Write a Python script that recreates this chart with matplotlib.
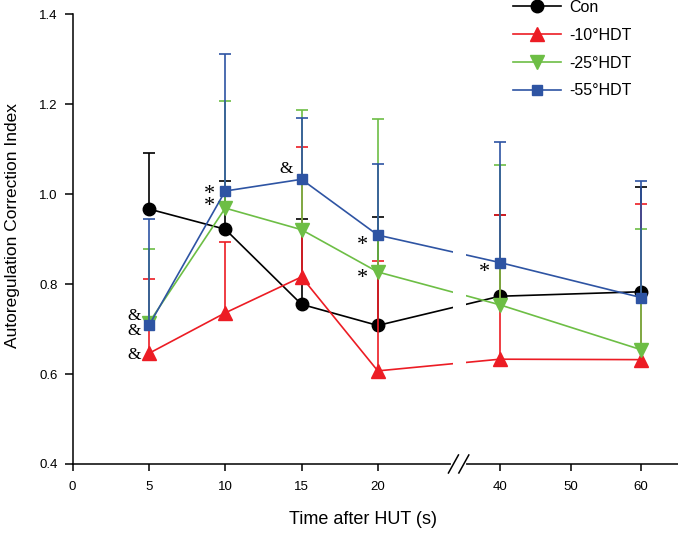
import numpy as np
import matplotlib
matplotlib.use('Agg')
import matplotlib.pyplot as plt
from matplotlib.lines import Line2D
from matplotlib.ticker import FormatStrFormatter

plt.rcParams['font.family'] = ['Liberation Sans', 'DejaVu Sans']

# data (mean and upper SD)
times = [5, 10, 15, 20, 40, 60]
con = [0.967, 0.922, 0.755, 0.708, 0.773, 0.783]
con_sd = [0.125, 0.107, 0.190, 0.242, 0.181, 0.233]
hdt10 = [0.646, 0.736, 0.816, 0.607, 0.633, 0.632]
hdt10_sd = [0.165, 0.158, 0.289, 0.245, 0.321, 0.347]
hdt25 = [0.714, 0.969, 0.921, 0.827, 0.754, 0.654]
hdt25_sd = [0.163, 0.238, 0.267, 0.340, 0.311, 0.269]
hdt55 = [0.708, 1.007, 1.033, 0.909, 0.848, 0.770]
hdt55_sd = [0.237, 0.305, 0.137, 0.158, 0.268, 0.260]

labels = ['Con', '-10°HDT', '-25°HDT', '-55°HDT']
xticks = [0, 5, 10, 15, 20, 40, 50, 60]
yticks = [0.4, 0.6, 0.8, 1.0, 1.2, 1.4]

# significance symbols (time, value, symbol)
marks = [(5, 0.729, '&'), (5, 0.696, '&'), (5, 0.642, '&'),
         (10, 0.997, '*\n*'), (15, 1.056, '&'),
         (20, 0.897, '*'), (20, 0.823, '*'), (40, 0.836, '*')]

colors = ['#000000', '#ec1c24', '#6dbe45', '#2e54a3']
markers = ['o', '^', 'v', 's']
msizes = [9, 9.5, 9.5, 7.5]


# broken time axis: 0-20 s, compressed gap, 40-60 s
def fwd(t):
    t = np.asarray(t, dtype=float)
    return np.where(t <= 20, t, np.where(t <= 40, 20 + (t - 20) * 0.4, 28 + (t - 40) * 0.4635))


def inv(p):
    p = np.asarray(p, dtype=float)
    return np.where(p <= 20, p, np.where(p <= 28, 20 + (p - 20) / 0.4, 40 + (p - 28) / 0.4635))


W, H = 678, 533
fig = plt.figure(figsize=(W / 100, H / 100), dpi=100)
ax = fig.add_axes([0.1072, 0.1295, 0.8928, 0.8437])
ax.set_xscale('function', functions=(fwd, inv))
ax.set_xlim(0, 65.2)
ax.set_ylim(0.4, 1.4)

series = [(con, con_sd), (hdt10, hdt10_sd), (hdt25, hdt25_sd), (hdt55, hdt55_sd)]
for i, (vals, sd) in enumerate(series):
    z = 3 + i
    eb = ax.errorbar(times, vals, yerr=[np.zeros(len(sd)), sd], fmt='none',
                     ecolor=colors[i], elinewidth=1.2, capsize=4.5, capthick=1.2, zorder=z)
    eb.lines[1][0].set_visible(False)  # one-sided bars: hide lower caps
    ax.plot(times, vals, color=colors[i], marker=markers[i], ms=msizes[i], lw=1.2,
            label=labels[i], zorder=z + 0.1)

# gap in the lines at the axis break
ax.axvspan(32.3, 34.4, ymin=0.006, ymax=1, color='white', lw=0, zorder=10)

for t, v, s in marks:
    if '*' in s:
        ax.annotate(s, xy=(t, v), xytext=(-11, -3.5), textcoords='offset points',
                    ha='center', va='center', fontsize=16, linespacing=0.55,
                    family='Liberation Serif', zorder=12)
    else:
        ax.annotate(s, xy=(t, v), xytext=(-11, 0), textcoords='offset points',
                    ha='center', va='center', fontsize=12.5, family='Liberation Serif', zorder=12)

for side in ['top', 'right']:
    ax.spines[side].set_visible(False)
for side in ['left', 'bottom']:
    ax.spines[side].set_linewidth(1.1)

ax.set_xticks(xticks)
ax.set_xticklabels([str(t) for t in xticks])
ax.xaxis.set_minor_locator(matplotlib.ticker.NullLocator())
ax.set_yticks(yticks)
ax.yaxis.set_major_formatter(FormatStrFormatter('%.1f'))
ax.tick_params(axis='x', direction='out', length=5, width=1.1, pad=7, labelsize=9.5)
ax.tick_params(axis='y', direction='out', length=6, width=1.1, pad=5, labelsize=9.5)

ax.set_xlabel('Time after HUT (s)', fontsize=13)
ax.xaxis.set_label_coords(0.4796, -0.105)
ax.set_ylabel('Autoregulation Correction Index', fontsize=12.5)
ax.yaxis.set_label_coords(-0.087, 0.53)

# break marks on the x axis
pts = [ax.transData.transform((tb, 0.4)) for tb in (32.4, 34.1)]
fig.add_artist(Line2D([pts[0][0] / W, pts[1][0] / W], [pts[0][1] / H, pts[1][1] / H],
                      transform=fig.transFigure, color='white', lw=3, zorder=19))
for cx, cy in pts:
    fig.add_artist(Line2D([(cx - 5) / W, (cx + 5) / W], [(cy - 9) / H, (cy + 9) / H],
                          transform=fig.transFigure, color='black', lw=1.1, zorder=20))

fig.legend(loc='upper left', bbox_to_anchor=(513 / W, 1.0), frameon=False,
           fontsize=11.5, handlelength=3.0, handletextpad=0.55, labelspacing=0.8,
           borderpad=0, borderaxespad=0)

fig.savefig('out.png', dpi=100)
